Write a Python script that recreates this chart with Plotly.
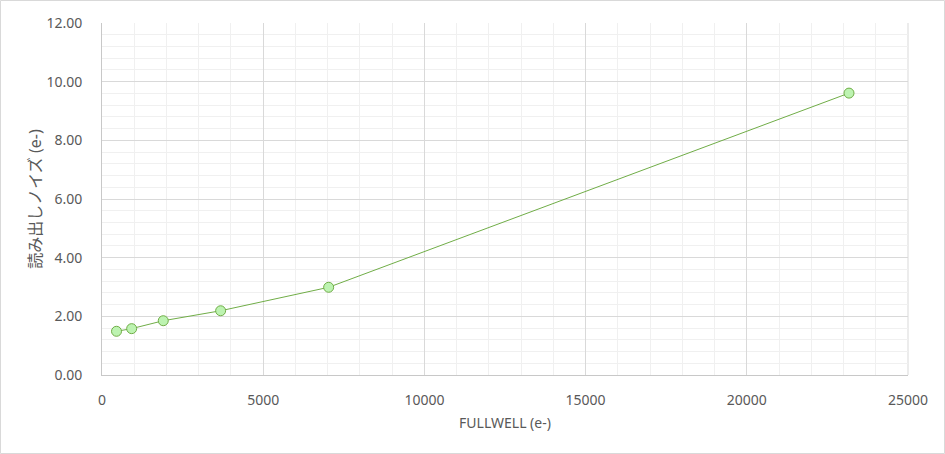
import plotly.graph_objects as go

fullwell = [450, 920, 1900, 3680, 7030, 23170]
read_noise = [1.49, 1.58, 1.85, 2.19, 2.99, 9.61]

x_title = "FULLWELL (e-)"
y_title = "読み出しノイズ (e-)"

W, H = 945, 454
L, R, T, B = 102, 37, 23, 79
pw, ph = W - L - R, H - T - B

txt = "#595959"
font_fam = "Noto Sans, Noto Sans CJK JP, sans-serif"

fig = go.Figure()
fig.add_trace(go.Scatter(
    x=fullwell, y=read_noise, mode="lines+markers",
    line=dict(color="#70ad47", width=1),
    marker=dict(symbol="circle", size=10, color="#bdf3b1",
                line=dict(color="#70ad47", width=1)),
    showlegend=False, hoverinfo="x+y",
))

fig.update_layout(
    width=W, height=H,
    margin=dict(l=L, r=R, t=T, b=B),
    paper_bgcolor="white", plot_bgcolor="white",
    font=dict(family=font_fam, size=14, color=txt),
    xaxis=dict(
        range=[0, 25000], dtick=5000, tick0=0, tickformat="d",
        showgrid=True, gridcolor="#d9d9d9", gridwidth=1,
        minor=dict(dtick=1000, showgrid=True, gridcolor="#f0f0f0", gridwidth=1),
        showline=True, linecolor="#c8c8c8", linewidth=1, mirror=False,
        zeroline=False, ticks="", ticklabelstandoff=12,
        title=dict(text=x_title, font=dict(size=14, color=txt), standoff=10),
        tickfont=dict(size=14, color=txt),
    ),
    yaxis=dict(
        range=[0, 12], dtick=2, tick0=0, tickformat=".2f",
        showgrid=True, gridcolor="#d9d9d9", gridwidth=1,
        minor=dict(dtick=0.4, showgrid=True, gridcolor="#f0f0f0", gridwidth=1),
        showline=True, linecolor="#c8c8c8", linewidth=1,
        zeroline=False, ticks="", ticklabelstandoff=16,
        title=dict(text=y_title, font=dict(size=16, color=txt), standoff=0),
        tickfont=dict(size=14, color=txt),
    ),
    shapes=[
        dict(type="rect", xref="paper", yref="paper",
             x0=(0.5 - L) / pw, x1=(W - 0.5 - L) / pw,
             y0=-(H - 0.5 - T - ph) / ph, y1=1 + (T - 0.5) / ph,
             line=dict(color="#d9d9d9", width=1), layer="below"),
        dict(type="line", xref="paper", yref="paper",
             x0=1, x1=1, y0=0, y1=1,
             line=dict(color="#d9d9d9", width=1), layer="below"),
    ],
)

fig.write_html("out.html", config={"displayModeBar": False},
               post_script="document.body.style.margin='0';document.body.style.overflow='hidden';")
